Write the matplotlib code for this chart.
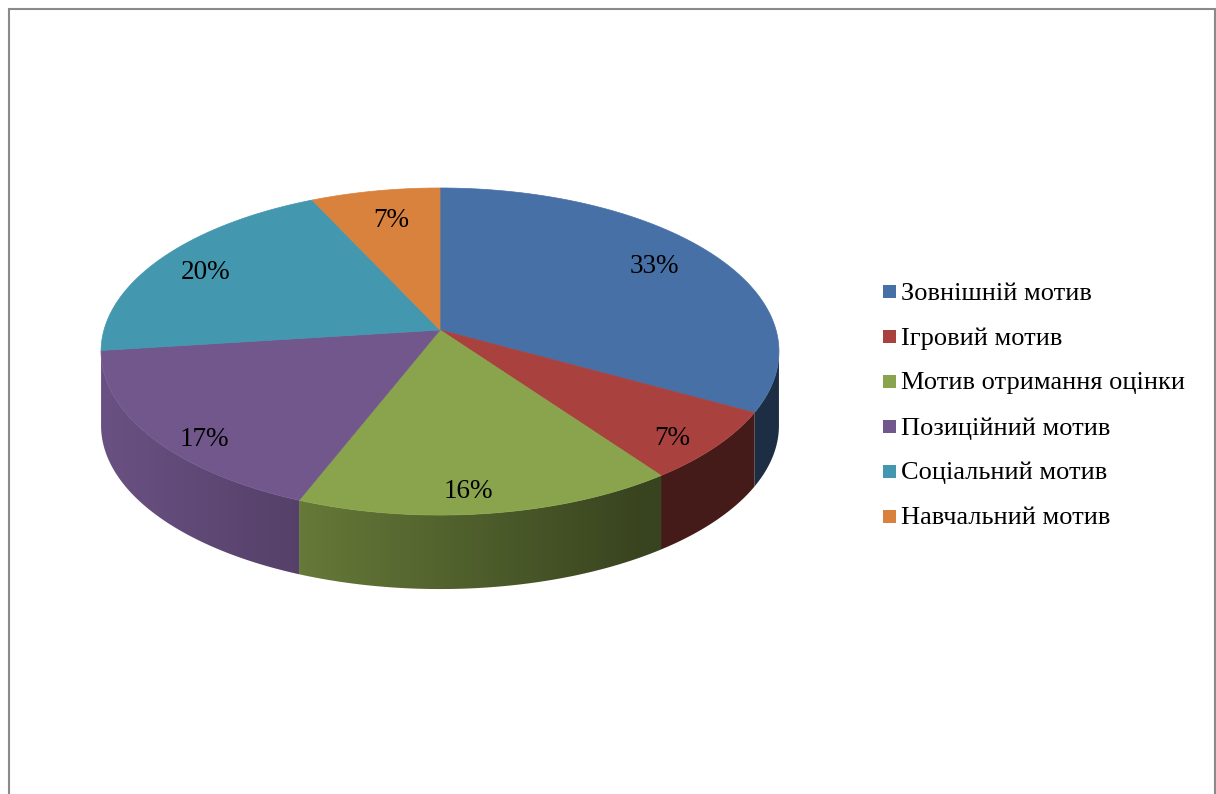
import numpy as np
import matplotlib
matplotlib.use("Agg")
import matplotlib.pyplot as plt
from matplotlib.patches import Polygon, Rectangle
from matplotlib.lines import Line2D
from matplotlib.colors import to_rgb

# ---- data -------------------------------------------------------------
categories = ['Зовнішній мотив', 'Ігровий мотив', 'Мотив отримання оцінки',
              'Позиційний мотив', 'Соціальний мотив', 'Навчальний мотив']
shares = [33, 7, 16, 17, 20, 7]
slice_colors = ['#4770A7', '#A9423F', '#89A44C', '#72578D', '#4397AE', '#D9823D']

# ---- geometry of the tilted disc (pixel space) -------------------------
W, H = 1216, 794
CX, CY = 440.0, 330.0       # apex of the slices
R = 336.0                   # horizontal radius
RS = 160.7                  # vertical radius scale
P = 0.1316                  # perspective strength
DEPTH = 74.0                # thickness of the disc
FONT = 'Liberation Serif'

# label nudges in pixels relative to the default anchor
label_nudge = [(0, -5), (21, 17), (-8, 21), (-15, 25), (-16, -2), (3, -1)]


def project(X, Y, drop=0.0):
    w = 1.0 - P * Y
    return CX + R * X / w, CY + RS * Y / w + drop


def direction(phi_deg):
    a = np.radians(phi_deg)
    return np.sin(a), -np.cos(a)


def side_shade(x):
    return np.maximum(0.41, 0.93 - 0.53 * (x - 101.0) / 556.0)


fig = plt.figure(figsize=(W / 100, H / 100), dpi=100)
ax = fig.add_axes([0, 0, 1, 1])
ax.axis('off')

total = float(sum(shares))
bounds = np.concatenate([[0.0], np.cumsum(shares) / total * 360.0])

# visible part of the rim (front half, between silhouette points)
vis_lo = np.degrees(np.arccos(-P))
vis_hi = 360.0 - vis_lo

# side walls, each filled with a left-to-right darkening gradient
for i, col in enumerate(slice_colors):
    a0, a1 = max(bounds[i], vis_lo), min(bounds[i + 1], vis_hi)
    if a1 <= a0:
        continue
    phis = np.linspace(a0, a1, 200)
    top = [project(*direction(p)) for p in phis]
    bottom = [(x, y + DEPTH) for x, y in top[::-1]]
    outline = np.array(top + bottom)
    x_min, x_max = outline[:, 0].min() - 1, outline[:, 0].max() + 1
    y_min, y_max = outline[:, 1].min() - 1, outline[:, 1].max() + 1
    xs = np.linspace(x_min, x_max, 400)
    grad = np.clip(np.array(to_rgb(col))[None, :] * side_shade(xs)[:, None], 0, 1)
    img = np.repeat(grad[None, :, :], 2, axis=0)
    clip = Polygon(outline, closed=True, facecolor='none', edgecolor='none')
    ax.add_patch(clip)
    im = ax.imshow(img, extent=(x_min, x_max, y_max, y_min), aspect='auto',
                   interpolation='bilinear', zorder=1)
    im.set_clip_path(clip)

# top faces
for i, col in enumerate(slice_colors):
    phis = np.linspace(bounds[i], bounds[i + 1], 200)
    pts = [(CX, CY)] + [project(*direction(p)) for p in phis]
    ax.add_patch(Polygon(pts, closed=True, facecolor=col, edgecolor=col,
                         linewidth=0.5, zorder=2))

# percentage labels
for i, v in enumerate(shares):
    mid = 0.5 * (bounds[i] + bounds[i + 1])
    dx, dy = direction(mid)
    lx, ly = project(0.78 * dx, 0.78 * dy)
    nx, ny = label_nudge[i]
    ax.text(lx + nx, ly + ny + 9, f'{v}%', ha='center', va='baseline',
            fontsize=19.5, family=FONT, color='black', zorder=3)

# legend
leg_x, leg_y0, leg_step, sq = 883, 291, 45, 13
for i, (name, col) in enumerate(zip(categories, slice_colors)):
    yc = leg_y0 + i * leg_step
    ax.add_patch(Rectangle((leg_x, yc - sq / 2), sq, sq, facecolor=col,
                           edgecolor='none', zorder=3))
    ax.text(leg_x + 18, yc + 8.5, name, ha='left', va='baseline',
            fontsize=19, family=FONT, color='black', zorder=3)

# frame
frame = dict(color='#8a8a8a', linewidth=1.5, solid_capstyle='butt', zorder=4)
ax.add_line(Line2D([9, 9], [8, H], **frame))
ax.add_line(Line2D([8, 1215], [9, 9], **frame))
ax.add_line(Line2D([1214.5, 1214.5], [8, H], **frame))

ax.set_xlim(0, W)
ax.set_ylim(H, 0)

fig.savefig('out.png', dpi=100)
